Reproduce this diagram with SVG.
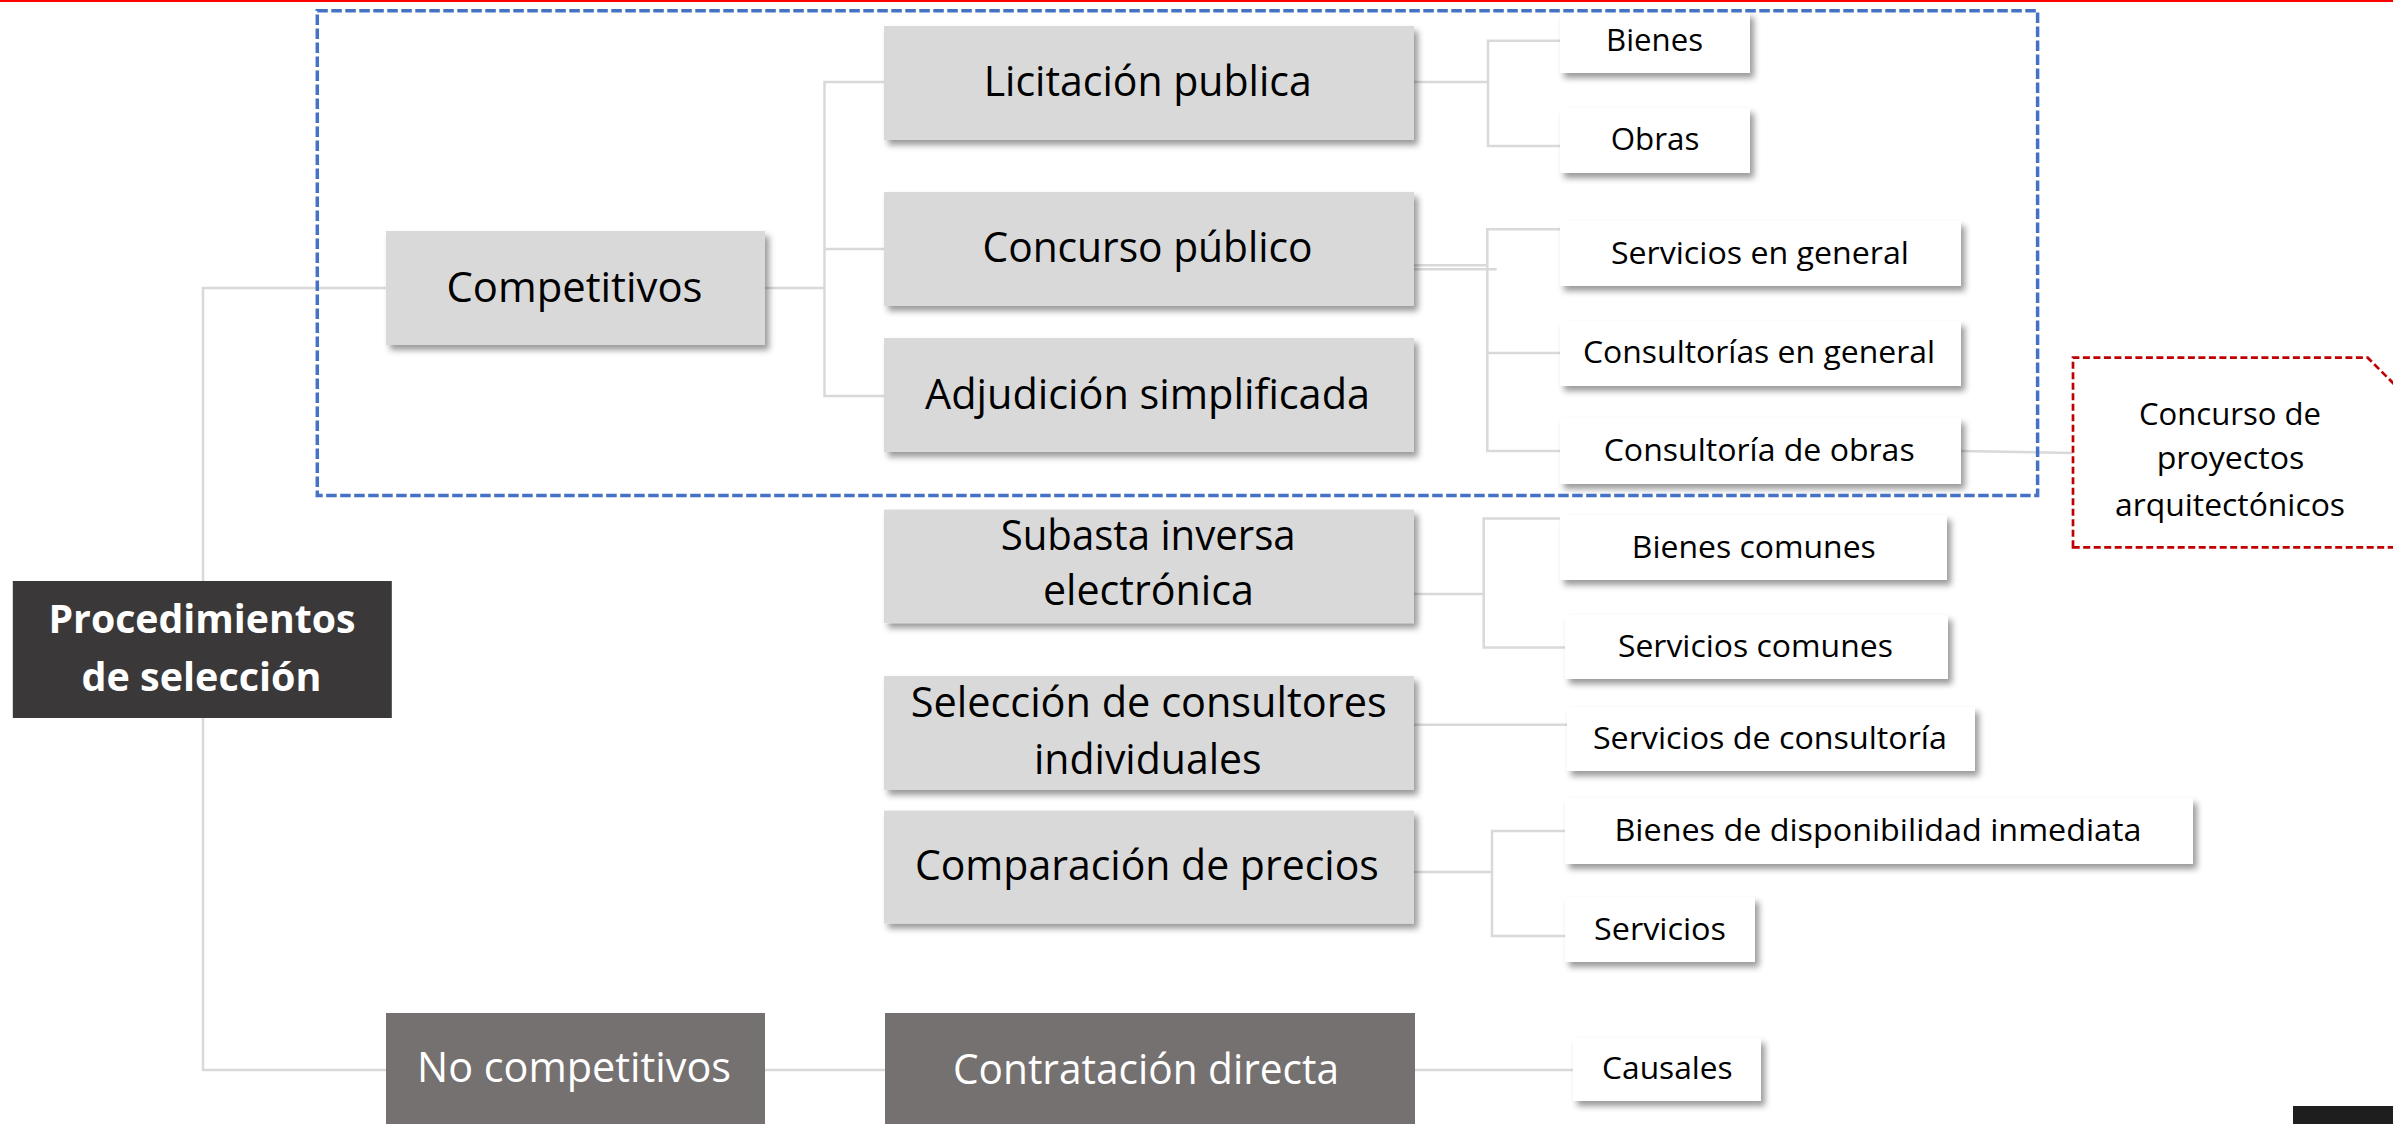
<svg xmlns="http://www.w3.org/2000/svg" width="2393" height="1124" viewBox="0 0 2393 1124">
<defs>
<filter id="sh" x="-10%" y="-20%" width="130%" height="160%">
<feDropShadow dx="4" dy="5" stdDeviation="3" flood-color="#000" flood-opacity="0.4"/>
</filter>
<style>
.gray{fill:#d9d9d9;filter:url(#sh)}
.white{fill:#ffffff;filter:url(#sh)}
.dark{fill:#767171}
.root{fill:#3a3838}
.tb{font-family:"Open Sans","Liberation Sans",sans-serif;font-size:42px;fill:#000;text-anchor:middle}
.tw{font-family:"Open Sans","Liberation Sans",sans-serif;font-size:42px;fill:#fff;text-anchor:middle}
.tr{font-family:"Open Sans","Liberation Sans",sans-serif;font-size:39px;font-weight:bold;fill:#fff;text-anchor:middle}
.ts{font-family:"Open Sans","Liberation Sans",sans-serif;font-size:31.5px;fill:#000;text-anchor:middle}
.con{stroke:#d9d9d9;stroke-width:2.5;fill:none}
</style>
</defs>
<rect x="0" y="0" width="2393" height="1124" fill="#fff"/>
<rect x="0" y="0" width="2393" height="2" fill="#ff0000"/>

<g id="connectors" class="con">
<polyline points="386,288 203,288 203,1070 386,1070"/>
<line x1="765" y1="288" x2="824.5" y2="288"/>
<polyline points="884,82 824.5,82 824.5,396 884,396"/>
<line x1="824.5" y1="249" x2="884" y2="249"/>
<line x1="1414" y1="82" x2="1488" y2="82"/>
<polyline points="1560,40.7 1488,40.7 1488,146 1560,146"/>
<line x1="1414" y1="265.3" x2="1487" y2="265.3"/>
<line x1="1414" y1="269.3" x2="1496.7" y2="269.3"/>
<polyline points="1560,229.3 1487.3,229.3 1487.3,451 1560,451"/>
<line x1="1487.3" y1="353" x2="1560" y2="353"/>
<line x1="1961" y1="451" x2="2073" y2="453"/>
<line x1="1414" y1="594" x2="1483.7" y2="594"/>
<polyline points="1560,518.6 1483.7,518.6 1483.7,647.6 1565,647.6"/>
<line x1="1414" y1="724.8" x2="1567" y2="724.8"/>
<line x1="1414" y1="872" x2="1492" y2="872"/>
<polyline points="1565,831 1492,831 1492,936 1565,936"/>
<line x1="765" y1="1070" x2="885" y2="1070"/>
<line x1="1415" y1="1070" x2="1573" y2="1070"/>
</g>

<g id="n-root"><rect class="root" x="12.8" y="581" width="379" height="137"/>
<text class="tr" x="202" y="633" textLength="307" lengthAdjust="spacingAndGlyphs">Procedimientos</text>
<text class="tr" x="201.5" y="691" textLength="240" lengthAdjust="spacingAndGlyphs">de selección</text></g>

<g id="n-competitivos"><rect class="gray" x="386" y="231" width="379" height="114"/>
<text class="tb" x="574.5" y="301.7" textLength="256" lengthAdjust="spacingAndGlyphs">Competitivos</text></g>

<g id="n-nocompetitivos"><rect class="dark" x="386" y="1013" width="379" height="120"/>
<text class="tw" x="574" y="1081.7" textLength="314" lengthAdjust="spacingAndGlyphs">No competitivos</text></g>

<g id="n-licitacion"><rect class="gray" x="884" y="26" width="530" height="114"/>
<text class="tb" x="1147.7" y="96" textLength="328" lengthAdjust="spacingAndGlyphs">Licitación publica</text></g>

<g id="n-concurso"><rect class="gray" x="884" y="192" width="530" height="114"/>
<text class="tb" x="1147.5" y="262.3" textLength="330" lengthAdjust="spacingAndGlyphs">Concurso público</text></g>

<g id="n-adjudicion"><rect class="gray" x="884" y="338" width="530" height="114"/>
<text class="tb" x="1147.5" y="409" textLength="445" lengthAdjust="spacingAndGlyphs">Adjudición simplificada</text></g>

<g id="n-subasta"><rect class="gray" x="884" y="509.6" width="530" height="113.5"/>
<text class="tb" x="1148.2" y="550" textLength="295" lengthAdjust="spacingAndGlyphs">Subasta inversa</text>
<text class="tb" x="1148.4" y="605" textLength="211" lengthAdjust="spacingAndGlyphs">electrónica</text></g>

<g id="n-seleccion"><rect class="gray" x="884" y="676" width="530" height="114"/>
<text class="tb" x="1148.7" y="717" textLength="476" lengthAdjust="spacingAndGlyphs">Selección de consultores</text>
<text class="tb" x="1147.8" y="773.6" textLength="227.6" lengthAdjust="spacingAndGlyphs">individuales</text></g>

<g id="n-comparacion"><rect class="gray" x="884" y="810.6" width="530" height="113"/>
<text class="tb" x="1146.9" y="880" textLength="464" lengthAdjust="spacingAndGlyphs">Comparación de precios</text></g>

<g id="n-contratacion"><rect class="dark" x="885" y="1013" width="530" height="120"/>
<text class="tw" x="1146" y="1083.7" textLength="386" lengthAdjust="spacingAndGlyphs">Contratación directa</text></g>

<g id="n-bienes"><rect class="white" x="1560" y="12" width="190" height="61"/>
<text class="ts" x="1654.6" y="50.7" textLength="97" lengthAdjust="spacingAndGlyphs">Bienes</text></g>

<g id="n-obras"><rect class="white" x="1560" y="108" width="190" height="65"/>
<text class="ts" x="1655.1" y="150" textLength="88.7" lengthAdjust="spacingAndGlyphs">Obras</text></g>

<g id="n-servgeneral"><rect class="white" x="1560" y="221" width="401" height="65"/>
<text class="ts" x="1759.9" y="264" textLength="298" lengthAdjust="spacingAndGlyphs">Servicios en general</text></g>

<g id="n-consgeneral"><rect class="white" x="1560" y="321" width="401" height="65"/>
<text class="ts" x="1759" y="362.5" textLength="352" lengthAdjust="spacingAndGlyphs">Consultorías en general</text></g>

<g id="n-consobras"><rect class="white" x="1560" y="418" width="401" height="66"/>
<text class="ts" x="1759.2" y="461" textLength="311" lengthAdjust="spacingAndGlyphs">Consultoría de obras</text></g>

<g id="n-bienescomunes"><rect class="white" x="1560" y="515" width="387" height="65"/>
<text class="ts" x="1753.8" y="558" textLength="244" lengthAdjust="spacingAndGlyphs">Bienes comunes</text></g>

<g id="n-servcomunes"><rect class="white" x="1565" y="615" width="383" height="64"/>
<text class="ts" x="1755.4" y="656.5" textLength="275" lengthAdjust="spacingAndGlyphs">Servicios comunes</text></g>

<g id="n-servconsultoria"><rect class="white" x="1567" y="707" width="408" height="64"/>
<text class="ts" x="1769.9" y="748.5" textLength="354" lengthAdjust="spacingAndGlyphs">Servicios de consultoría</text></g>

<g id="n-bienesdisp"><rect class="white" x="1565" y="798" width="628" height="66"/>
<text class="ts" x="1878" y="840.5" textLength="527" lengthAdjust="spacingAndGlyphs">Bienes de disponibilidad inmediata</text></g>

<g id="n-servicios"><rect class="white" x="1565" y="897" width="190" height="65"/>
<text class="ts" x="1660" y="939.5" textLength="132" lengthAdjust="spacingAndGlyphs">Servicios</text></g>

<g id="n-causales"><rect class="white" x="1573" y="1038" width="188" height="63"/>
<text class="ts" x="1667.4" y="1079" textLength="130.7" lengthAdjust="spacingAndGlyphs">Causales</text></g>

<g id="n-proyectos">
<path d="M2073,547.3 L2073,357.7 L2367.7,357.7 L2430,420 L2430,547.3 Z" fill="none" stroke="#c00000" stroke-width="2.7" stroke-dasharray="7 3.5"/>
<text class="ts" x="2230" y="425" textLength="182" lengthAdjust="spacingAndGlyphs">Concurso de</text>
<text class="ts" x="2230.5" y="469" textLength="147.7" lengthAdjust="spacingAndGlyphs">proyectos</text>
<text class="ts" x="2230" y="516" textLength="230" lengthAdjust="spacingAndGlyphs">arquitectónicos</text>
</g>

<g id="group-competitivos">
<rect x="317.3" y="10.7" width="1720.3" height="484.8" fill="none" stroke="#4472c4" stroke-width="3.5" stroke-dasharray="10.5 3.5"/>
</g>

<rect x="2293" y="1106" width="100" height="18" fill="#1e1e1e"/>
</svg>
